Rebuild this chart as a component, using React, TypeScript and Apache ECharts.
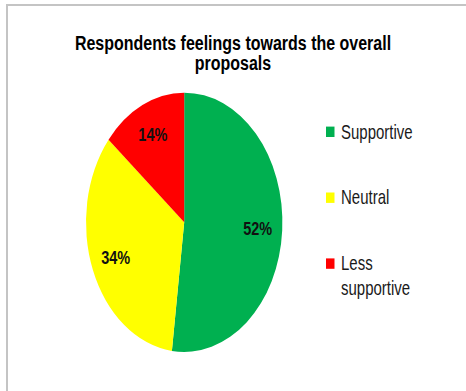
import React, { useEffect, useRef } from "react";
import * as echarts from "echarts";

const categories = ["Supportive", "Neutral", "Less supportive"];
const legendLabels = ["Supportive", "Neutral", "Less\nsupportive"];
const values = [52, 34, 14];
const colors = ["#00B050", "#FFFF00", "#FF0000"];
const titleText = "Respondents feelings towards the overall\nproposals";

const FONT = '"Liberation Sans", Arial, sans-serif';
const SY = 1.32; // vertical stretch of the original picture
const CX = 184.2;
const CY = 222.3;
const R = 98.2;
const LABEL_R = 0.75;

export default function App() {
  const ref = useRef<HTMLDivElement>(null);
  useEffect(() => {
    if (!ref.current) return;
    const chart = echarts.init(ref.current, null, { renderer: "svg" });
    const total = values.reduce((a, b) => a + b, 0);

    const legendGraphics: any[] = [];
    legendLabels.forEach((lab, i) => {
      const cy = 131.8 + i * 65.9;
      legendGraphics.push({
        type: "rect",
        left: undefined,
        x: 326,
        y: cy - 5.2,
        shape: { x: 0, y: 0, width: 8.5, height: 10.4 },
        style: { fill: colors[i] },
      });
      legendGraphics.push({
        type: "group",
        x: 341,
        y: cy - (18.7 / 2) * SY,
        scaleY: SY,
        children: [
          {
            type: "text",
            x: 0,
            y: 0,
            style: {
              text: lab,
              font: `15px ${FONT}`,
              fill: "#1a1a1a",
              align: "left",
              verticalAlign: "top",
              lineHeight: 18.7,
            },
          },
        ],
      });
    });

    const option: any = {
      animation: false,
      backgroundColor: "#ffffff",
      graphic: [
        {
          type: "rect",
          x: 7,
          y: 5,
          shape: { x: 0, y: 0, width: 480, height: 420 },
          style: { fill: "none", stroke: "#c4c4c4", lineWidth: 2 },
        },
        {
          type: "group",
          x: 233,
          y: 32.5,
          scaleY: SY,
          children: [
            {
              type: "text",
              x: 0,
              y: 0,
              style: {
                text: titleText,
                font: `bold 16px ${FONT}`,
                fill: "#000000",
                align: "center",
                verticalAlign: "top",
                lineHeight: 15.4,
              },
            },
          ],
        },
        ...legendGraphics,
      ],
      series: [
        {
          type: "custom",
          coordinateSystem: "none",
          data: values.map((v, i) => ({ value: v, name: categories[i] })),
          renderItem: (params: any, api: any) => {
            const i = params.dataIndex;
            const v = api.value(0);
            const before = values.slice(0, i).reduce((a, b) => a + b, 0);
            const start = -Math.PI / 2 + (before / total) * Math.PI * 2;
            const end = start + (v / total) * Math.PI * 2;
            const mid = (start + end) / 2;
            return {
              type: "group",
              x: CX,
              y: CY,
              scaleY: SY,
              children: [
                {
                  type: "sector",
                  shape: { cx: 0, cy: 0, r0: 0, r: R, startAngle: start, endAngle: end, clockwise: true },
                  style: { fill: colors[i] },
                },
                {
                  type: "text",
                  x: Math.cos(mid) * R * LABEL_R,
                  y: Math.sin(mid) * R * LABEL_R,
                  style: {
                    text: Math.round((v / total) * 100) + "%",
                    font: `bold 14.5px ${FONT}`,
                    fill: "#111111",
                    align: "center",
                    verticalAlign: "middle",
                  },
                },
              ],
            };
          },
        },
      ],
    };
    chart.setOption(option);
    return () => chart.dispose();
  }, []);
  return (
    <div
      ref={ref}
      style={{ position: "fixed", left: 0, top: 0, width: 466, height: 391 }}
    />
  );
}
